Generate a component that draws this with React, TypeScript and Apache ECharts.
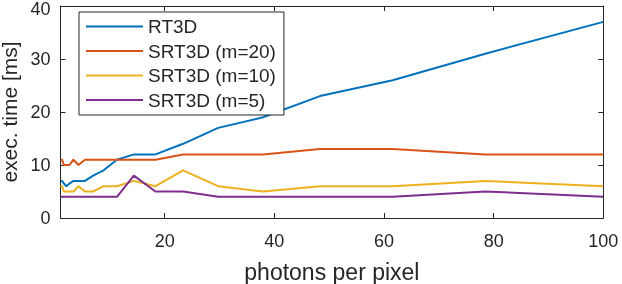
import React, { useEffect, useRef } from "react";
import * as echarts from "echarts";

const photons = [1, 1.274, 1.624, 2.069, 2.637, 3.36, 4.281, 5.456, 6.952, 8.859, 11.29, 14.38, 18.33, 23.36, 29.76, 37.93, 48.33, 61.58, 78.48, 100];
const rt3d = [7, 7, 6.5, 6, 6.5, 7, 7, 7, 8, 9, 11, 12, 12, 14, 17, 19, 23, 26, 31, 37];
const srt3dM20 = [11, 11, 10, 10, 10, 11, 10, 11, 11, 11, 11, 11, 11, 12, 12, 12, 13, 13, 12, 12];
const srt3dM10 = [6, 6, 5, 5, 5, 5, 6, 5, 5, 6, 6, 7, 6, 9, 6, 5, 6, 6, 7, 6];
const srt3dM5 = [4, 4, 4, 4, 4, 4, 4, 4, 4, 4, 4, 8, 5, 5, 4, 4, 4, 4, 5, 4];
const xTicks = [20, 40, 60, 80, 100];
const seriesNames = ["RT3D", "SRT3D (m=20)", "SRT3D (m=10)", "SRT3D (m=5)"];
const colors = ["#0072BD", "#D95319", "#EDB120", "#7E2F8E"];

export default function App() {
  const ref = useRef<HTMLDivElement>(null);
  useEffect(() => {
    const chart = echarts.init(ref.current!, null, { renderer: "svg" });
    const pair = (ys: number[]) => photons.map((x, i) => [x, ys[i]]);
    const font = "'Liberation Sans', Arial, Helvetica, sans-serif";
    const ink = "#262626";
    const axisLine = { show: true, onZero: false, lineStyle: { color: ink, width: 1 } };
    const xTick = { show: true, inside: true, length: 5, customValues: xTicks, lineStyle: { color: ink, width: 1 } };
    const yTick = { show: true, inside: true, length: 5, lineStyle: { color: ink, width: 1 } };
    const allData = [rt3d, srt3dM20, srt3dM10, srt3dM5];
    chart.setOption({
      animation: false,
      color: colors,
      textStyle: { fontFamily: font, color: ink },
      grid: { left: 60.5, right: 18.7, top: 6, bottom: 66, containLabel: false, outerBoundsMode: "none" },
      xAxis: [
        {
          type: "value", min: 1, max: 100, position: "bottom",
          axisLine, splitLine: { show: false }, axisTick: xTick,
          axisLabel: { customValues: xTicks, fontSize: 18, color: ink, margin: 14, fontFamily: font },
          name: "photons per pixel", nameLocation: "middle", nameGap: 42,
          nameTextStyle: { fontSize: 23, color: ink, fontFamily: font },
        },
        {
          type: "value", min: 1, max: 100, position: "top",
          axisLine, splitLine: { show: false }, axisTick: xTick,
          axisLabel: { show: false },
        },
      ],
      yAxis: [
        {
          type: "value", min: 0, max: 40, interval: 10, position: "left",
          axisLine, splitLine: { show: false }, axisTick: yTick,
          axisLabel: {
            fontSize: 18, lineHeight: 18, color: ink, margin: 10, fontFamily: font,
            formatter: (v: number) => (v === 40 ? "{top|40}" : String(v)),
            rich: { top: { fontSize: 18, lineHeight: 18, padding: [6, 0, 0, 0], color: ink, fontFamily: font } },
          },
          name: "exec. time [ms]", nameLocation: "middle", nameGap: 34.5, nameRotate: 90,
          nameTextStyle: { fontSize: 21, lineHeight: 21, color: ink, fontFamily: font },
        },
        {
          type: "value", min: 0, max: 40, interval: 10, position: "right",
          axisLine, splitLine: { show: false }, axisTick: yTick,
          axisLabel: { show: false },
        },
      ],
      legend: {
        orient: "vertical", left: 79, top: 12,
        icon: "rect",
        itemWidth: 57, itemHeight: 2, itemGap: 4.5,
        padding: [4.5, 8, 5, 7],
        backgroundColor: "#ffffff", borderColor: ink, borderWidth: 1, borderRadius: 0,
        textStyle: { fontSize: 19, lineHeight: 20, color: ink, fontFamily: font },
        data: seriesNames,
      },
      series: allData.map((ys, i) => ({
        name: seriesNames[i],
        type: "line",
        data: pair(ys),
        symbol: "none",
        showSymbol: false,
        lineStyle: { width: 2, color: colors[i] },
        itemStyle: { color: colors[i] },
        emphasis: { disabled: true },
        z: 2 + i,
      })),
    });
    return () => chart.dispose();
  }, []);
  return <div ref={ref} style={{ position: "fixed", left: 0, top: 0, width: 622, height: 284 }} />;
}
